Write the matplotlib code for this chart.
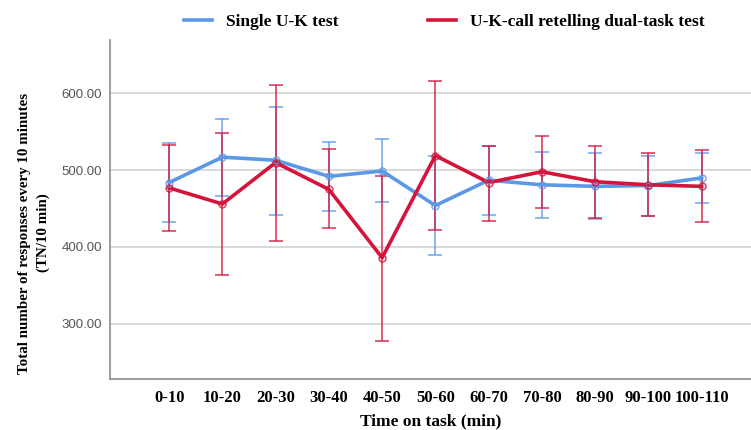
import numpy as np
from matplotlib import pyplot as plt

#dati
fasce = ["0-10", "10-20", "20-30", "30-40", "40-50", "50-60",
         "60-70", "70-80", "80-90", "90-100", "100-110"]

singolo_media = [484, 517, 513, 492, 499, 454, 487, 481, 479, 480, 490]
singolo_basso = [433, 467, 442, 447, 458, 389, 442, 438, 437, 441, 457]
singolo_alto = [536, 567, 583, 537, 541, 519, 531, 524, 522, 519, 523]

doppio_media = [477, 456, 510, 475, 386, 519, 484, 498, 485, 481, 479]
doppio_basso = [421, 363, 408, 425, 278, 422, 434, 451, 438, 441, 432]
doppio_alto = [533, 548, 611, 527, 493, 616, 532, 544, 531, 522, 526]

blu = "#5b98e6"
rosso = "#d4143a"
serif = "Liberation Serif"

fig = plt.figure(figsize=(7.51, 4.30), dpi=100)
ax = fig.add_axes([0.1465, 0.1186, 0.853, 0.789])

x = np.arange(len(fasce))

def serie(media, basso, alto, colore, nome):
    media = np.array(media)
    err = [media - np.array(basso), np.array(alto) - media]
    ax.errorbar(x, media, yerr=err, fmt='none', ecolor=colore, alpha=0.75,
                elinewidth=1.3, capsize=5, capthick=1.3, zorder=3)
    ax.plot(x, media, color=colore, lw=2.6, label=nome, zorder=4)
    ax.plot(x, media, 'o', ms=5, mfc='none', mec=colore, mew=1.1, alpha=0.8, zorder=5)

serie(singolo_media, singolo_basso, singolo_alto, blu, "Single U-K test")
serie(doppio_media, doppio_basso, doppio_alto, rosso, "U-K-call retelling dual-task test")

ax.set_xlim(-1.11, 10.92)
ax.set_ylim(228, 670)
ax.set_yticks([300, 400, 500, 600])
ax.set_yticklabels(["300.00", "400.00", "500.00", "600.00"],
                   fontfamily="Liberation Sans", fontsize=9.5, color="#555555")
ax.set_xticks(x)
ax.set_xticklabels(fasce, fontfamily=serif, fontweight="bold", fontsize=12)
ax.tick_params(axis='x', length=0, pad=8)
ax.tick_params(axis='y', length=0, pad=6)

ax.grid(axis='y', color="#d3d3d3", lw=1.2)
ax.set_axisbelow(True)
for s in ["top", "right"]:
    ax.spines[s].set_visible(False)
for s in ["left", "bottom"]:
    ax.spines[s].set_color("#8c8c8c")
    ax.spines[s].set_linewidth(1.2)

ax.set_xlabel("Time on task (min)", fontfamily=serif, fontweight="bold", fontsize=12.5)
ax.xaxis.set_label_coords(0.5, -0.1)
ax.set_ylabel("Total number of responses every 10 minutes\n(TN/10 min)",
              fontfamily=serif, fontweight="bold", fontsize=10.8, linespacing=1.6)
ax.yaxis.set_label_coords(-0.093, 0.43)

ax.legend(loc="lower center", bbox_to_anchor=(0.522, 1.0), ncol=2, frameon=False,
          prop={"family": serif, "weight": "bold", "size": 12.5},
          handlelength=1.6, columnspacing=5.2, borderaxespad=0.15)

plt.savefig("out.png", dpi=100)
